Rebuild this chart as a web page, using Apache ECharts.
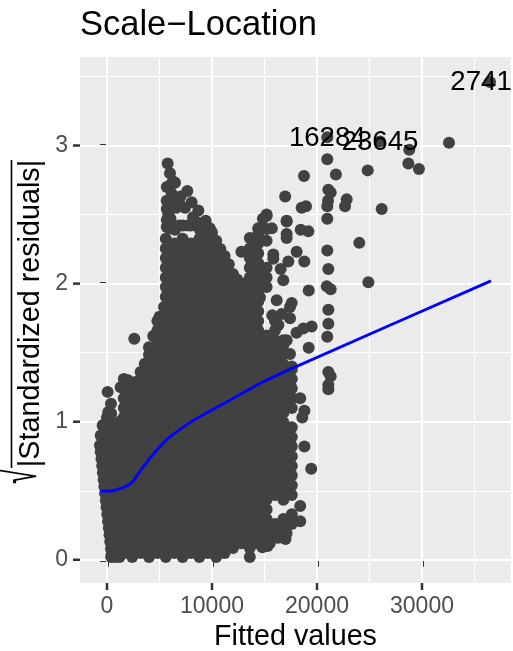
<!DOCTYPE html>
<html><head><meta charset="utf-8">
<script src="https://cdn.jsdelivr.net/npm/echarts@6/dist/echarts.min.js"></script>
<style>html,body{margin:0;padding:0;background:#fff}#c{width:513px;height:651px}</style></head>
<body><div id="c"></div>
<script>
var columnFitted=[0,800,1600,2400,3200,4000,4800,5600,6400,7200,8000,8800,9600,10400,11200,12000,12800,13600,14400,15200,16000,16800,17600];
var columnResiduals=[
[.4,.47,.54,.61,.68,.75,.82,.89,.96,1.03],
[.02,.085,.155,.225,.295,.365,.435,.505,.575,.645,.715,.785,.855,.925],
[.05,.12,.19,.26,.33,.4,.47,.54,.61,.68,.75,.82,.89,.96,1.03,1.1,1.17,1.24,1.31],
[.02,.085,.155,.225,.295,.365,.435,.505,.575,.645,.715,.785,.855,.925,.995,1.065,1.135,1.205,1.275],
[.05,.12,.19,.26,.33,.4,.47,.54,.61,.68,.75,.82,.89,.96,1.03,1.1,1.17,1.24,1.31,1.36],
[.02,.085,.155,.225,.295,.365,.435,.505,.575,.645,.715,.785,.855,.925,.995,1.065,1.135,1.205,1.275,1.345,1.415,1.485,1.54],
[.05,.12,.19,.26,.33,.4,.47,.54,.61,.68,.75,.82,.89,.96,1.03,1.1,1.17,1.24,1.31,1.38,1.45,1.52,1.59,1.66,1.73],
[.02,.085,.155,.225,.295,.365,.435,.505,.575,.645,.715,.785,.855,.925,.995,1.065,1.135,1.205,1.275,1.345,1.415,1.485,1.555,1.625,1.695,1.765,1.835,1.905,1.975,2.045,2.115,2.185,2.255,2.325],
[.05,.12,.19,.26,.33,.4,.47,.54,.61,.68,.75,.82,.89,.96,1.03,1.1,1.17,1.24,1.31,1.38,1.45,1.52,1.59,1.66,1.73,1.8,1.87,1.94,2.01,2.08,2.15,2.22,2.29],
[.02,.085,.155,.225,.295,.365,.435,.505,.575,.645,.715,.785,.855,.925,.995,1.065,1.135,1.205,1.275,1.345,1.415,1.485,1.555,1.625,1.695,1.765,1.835,1.905,1.975,2.045,2.115,2.185,2.255,2.325],
[.05,.12,.19,.26,.33,.4,.47,.54,.61,.68,.75,.82,.89,.96,1.03,1.1,1.17,1.24,1.31,1.38,1.45,1.52,1.59,1.66,1.73,1.8,1.87,1.94,2.01,2.08,2.15,2.22,2.29],
[.02,.085,.155,.225,.295,.365,.435,.505,.575,.645,.715,.785,.855,.925,.995,1.065,1.135,1.205,1.275,1.345,1.415,1.485,1.555,1.625,1.695,1.765,1.835,1.905,1.975,2.045,2.115,2.185,2.255,2.325,2.395],
[.05,.12,.19,.26,.33,.4,.47,.54,.61,.68,.75,.82,.89,.96,1.03,1.1,1.17,1.24,1.31,1.38,1.45,1.52,1.59,1.66,1.73,1.8,1.87,1.94,2.01,2.08,2.15,2.22,2.29,2.36],
[.02,.085,.155,.225,.295,.365,.435,.505,.575,.645,.715,.785,.855,.925,.995,1.065,1.135,1.205,1.275,1.345,1.415,1.485,1.555,1.625,1.695,1.765,1.835,1.905,1.975,2.045,2.115,2.185,2.255,2.31],
[.05,.12,.19,.26,.33,.4,.47,.54,.61,.68,.75,.82,.89,.96,1.03,1.1,1.17,1.24,1.31,1.38,1.45,1.52,1.59,1.66,1.73,1.8,1.87,1.94,2.01,2.08,2.15,2.2],
[.085,.155,.225,.295,.365,.435,.505,.575,.645,.715,.785,.855,.925,.995,1.065,1.135,1.205,1.275,1.345,1.415,1.485,1.555,1.625,1.695,1.765,1.835,1.905,1.975,2.045,2.07],
[.12,.19,.26,.33,.4,.47,.54,.61,.68,.75,.82,.89,.96,1.03,1.1,1.17,1.24,1.31,1.38,1.45,1.52,1.59,1.66,1.73,1.8,1.87,1.94,2,2.23],
[.02,.085,.155,.225,.295,.365,.435,.505,.575,.645,.715,.785,.855,.925,.995,1.065,1.135,1.205,1.275,1.345,1.415,1.485,1.555,1.625,1.695,1.765,1.835,1.905,1.975,2.045,2.115,2.185,2.255,2.33],
[.12,.19,.26,.33,.4,.47,.54,.61,.68,.75,.82,.89,.96,1.03,1.1,1.17,1.24,1.31,1.38,1.45,1.52,1.59,1.66,1.73,1.8,1.87,1.94,2.01,2.08,2.15,2.22,2.29,2.36,2.4],
[.155,.225,.295,.365,.435,.505,.575,.645,.715,.785,.855,.925,.995,1.065,1.135,1.205,1.275,1.345,1.415,1.485,1.555,1.625,1.975,2.045,2.115,2.31,2.395,2.49],
[.19,.26,.47,.54,.61,.68,.75,.82,.89,.96,1.03,1.1,1.17,1.24,1.31,1.38,1.45,1.52,1.59,1.66,1.73],
[.225,.295,.435,.505,.575,.645,.715,.785,.855,.925,.995,1.065,1.135,1.205,1.275,1.345,1.415,1.485,1.555,1.59],
[.26,.33,.47,.54,.61,.68,.75,.82,.89,.96,1.1,1.17,1.24,1.31,1.38]
];
var edgeFitted=[-670,-600,-530,-460,-390,-320,-250,-180,-110,-40,30,100,170,240,310,380,450,-600,-410,120,60,380,400,400,2600,15300,17100,18400,18400,18800,19450,18800,18600,18400,1300,2000,2800,3600,4400,5000,5430,400,1200,1200,17000,16300,15500,14800,12400,10800,11600];
var edgeResiduals=[.83,.78,.73,.68,.63,.58,.53,.48,.43,.38,.33,.28,.23,.18,.13,.08,.04,.9,.975,1.07,1.216,1.13,1.06,.99,1.6,.1,.19,.28,.39,.82,.66,1.08,1.03,1.17,1.25,1.3,1.29,1.42,1.62,1.76,1.83,.02,.02,1,.15,.16,.12,.09,2.03,2.25,2.14];
var spikeFitted=[5780,6000,6300,5700,6480,6160,5690,6950,7650,8060,7430,8700,8200,9400,5840,7240,5690,6480,5700,5700,6100,6100,6050,6000,6900,7700,8000,8700,9000,9800,10000,7000,6600];
var spikeResiduals=[2.87,2.8,2.74,2.7,2.73,2.65,2.6,2.57,2.67,2.59,2.55,2.53,2.48,2.455,2.5,2.42,2.41,2.39,2.46,2.54,2.58,2.72,2.47,2.4,2.42,2.42,2.42,2.44,2.42,2.4,2.37,2.63,2.55];
var outlierFitted=[32570,28790,28700,29710,24830,26160,20980,21800,18760,16970,21080,21300,21050,20980,22830,22670,18950,18540,20980,17110,15200,14850,17110,17110,17110,18450,19170,15840,15840,18060,18790,17270,16540,16790,19210,16160,17590,17430,15740,16640,17430,19490,18700,18050,19210,16320,17110,17430,17590,14570,24030,20980,21080,24890,20930,21300,21080,21080,20980,21080,21300,21080,21080,15700];
var outlierResiduals=[3.02,2.97,2.87,2.83,2.82,2.54,2.9,2.79,2.78,2.63,2.68,2.66,2.6,2.56,2.61,2.56,2.56,2.55,2.47,2.455,2.5,2.47,2.45,2.36,2.33,2.39,2.38,2.21,2.18,2.23,2.16,2.16,2.105,2.025,1.95,1.88,1.86,1.83,1.77,1.78,1.75,1.69,1.675,1.645,1.535,1.7,1.59,1.49,1.4,1.9,2.295,2.24,2.105,2.01,1.98,1.96,1.81,1.71,1.615,1.36,1.33,1.265,1.235,2.4];
var labelledFitted=[36480,20980,26000];
var labelledResiduals=[3.46,3.06,3.03];
var labelNames=['2741','16284','23645'];
var smoothFitted=[-670,290,1560,2350,3440,4730,6000,8220,11400,14570,17740,36570];
var smoothResiduals=[.498,.498,.523,.557,.672,.793,.89,1.01,1.143,1.277,1.39,2.02];
var xTicks=[0,10000,20000,30000];
var yTicks=[0,1,2,3];
var xMinor=[5000,15000,25000,35000];
var yMinor=[.5,1.5,2.5,3.5];

var FONT='"Liberation Sans", Arial, sans-serif';
var DOT='#414141';
var points=[];
columnFitted.forEach(function(x,i){columnResiduals[i].forEach(function(y){points.push([x,y]);});});
edgeFitted.forEach(function(x,i){points.push([x,edgeResiduals[i]]);});
spikeFitted.forEach(function(x,i){points.push([x,spikeResiduals[i]]);});
outlierFitted.forEach(function(x,i){points.push([x,outlierResiduals[i]]);});
var gridLines=[];
xMinor.forEach(function(v){gridLines.push({xAxis:v,lineStyle:{color:'#fff',width:1,type:'solid'}});});
yMinor.forEach(function(v){gridLines.push({yAxis:v,lineStyle:{color:'#fff',width:1,type:'solid'}});});
xTicks.forEach(function(v){gridLines.push({xAxis:v,lineStyle:{color:'#fff',width:2,type:'solid'}});});
yTicks.forEach(function(v){gridLines.push({yAxis:v,lineStyle:{color:'#fff',width:2,type:'solid'}});});

var chart=echarts.init(document.getElementById('c'),null,{renderer:'canvas'});
var titleGraphics=[
 {type:'line',shape:{x1:11.5,y1:160,x2:11.5,y2:468},style:{stroke:'#000',lineWidth:1.6}},
 {type:'text',x:-5,y:484,rotation:Math.PI/2,scaleY:1.87,style:{text:'\u221a',font:'28px "Liberation Sans"',fill:'#000',textVerticalAlign:'top'}},
 {type:'text',x:46,y:313.5,rotation:Math.PI/2,style:{text:'|Standardized residuals|',font:'28.75px "Liberation Sans"',fill:'#000',textAlign:'center',textVerticalAlign:'bottom'}}
];
chart.setOption({
animation:false,
textStyle:{fontFamily:FONT},
title:{text:'Scale\u2212Location',left:80,top:8,padding:0,textStyle:{fontFamily:FONT,fontSize:34.5,fontWeight:'normal',color:'#000'}},
grid:{left:80,right:2,top:57,bottom:68,show:true,backgroundColor:'#ebebeb',borderWidth:0,outerBoundsMode:'none'},
xAxis:{type:'value',min:-2571,max:38476,name:'Fitted values',nameLocation:'middle',nameGap:40,
 nameTextStyle:{fontFamily:FONT,fontSize:28.75,color:'#000'},
 axisLine:{show:false},splitLine:{show:false},
 axisTick:{show:true,length:7,customValues:xTicks,lineStyle:{color:'#333',width:3,opacity:1}},
 axisLabel:{customValues:xTicks,formatter:function(v){return String(v);},fontFamily:FONT,fontSize:23,color:'#4d4d4d',margin:12}},
yAxis:{type:'value',min:-.168,max:3.641,
 axisLine:{show:false},splitLine:{show:false},
 axisTick:{show:true,length:7,customValues:yTicks,lineStyle:{color:'#333',width:3,opacity:1}},
 axisLabel:{customValues:yTicks,formatter:function(v){return String(v);},fontFamily:FONT,fontSize:23,color:'#4d4d4d',margin:12}},
graphic:titleGraphics,
series:[
 {type:'line',name:'grid',z:1,data:[[0,0]],symbol:'none',lineStyle:{width:0},silent:true,
  markLine:{z:1,silent:true,symbol:'none',label:{show:false},animation:false,data:gridLines}},
 {type:'scatter',name:'residuals',z:2,data:points,symbol:'circle',symbolSize:12,itemStyle:{color:DOT,opacity:1},large:false,silent:true},
 {type:'scatter',name:'labelled',z:2,symbol:'circle',symbolSize:12,itemStyle:{color:DOT,opacity:1},silent:true,
  data:labelledFitted.map(function(x,i){return {value:[x,labelledResiduals[i]],name:labelNames[i],
   label:{show:true,position:'inside',formatter:'{b}',fontFamily:FONT,fontSize:27.6,color:'#000',offset:i===0?[-9,0]:[0,1]}};})},
 {type:'line',name:'smooth',z:3,data:smoothFitted.map(function(x,i){return [x,smoothResiduals[i]];}),symbol:'none',smooth:.15,
  lineStyle:{color:'#0000ff',width:2.8},silent:true}
]
});
var tickMarks=[];
xTicks.forEach(function(v){var p=chart.convertToPixel({xAxisIndex:0},v);tickMarks.push({type:'line',shape:{x1:p,y1:583,x2:p,y2:590},style:{stroke:'#333',lineWidth:2.5}});});
yTicks.forEach(function(v){var p=chart.convertToPixel({yAxisIndex:0},v);tickMarks.push({type:'line',shape:{x1:73,y1:p,x2:80,y2:p},style:{stroke:'#333',lineWidth:2.5}});});
chart.setOption({graphic:titleGraphics.concat(tickMarks)});
</script></body></html>
